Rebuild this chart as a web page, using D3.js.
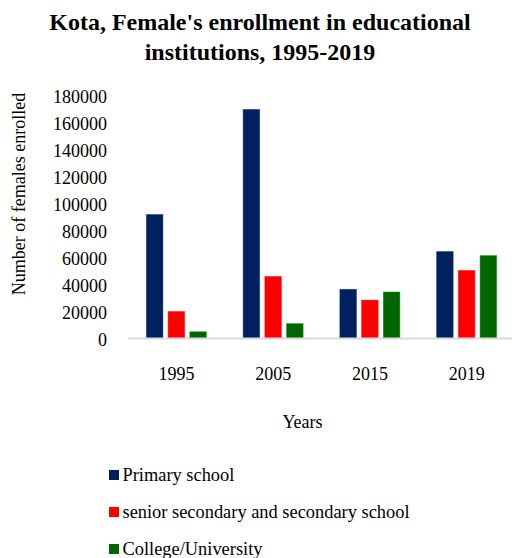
<!DOCTYPE html>
<html>
<head>
<meta charset="utf-8">
<script src="https://cdn.jsdelivr.net/npm/d3@7/dist/d3.min.js"></script>
<style>
  html, body { margin: 0; padding: 0; background: #fff; }
  svg { display: block; }
  svg text { font-family: "Liberation Serif", "Times New Roman", serif; fill: #000; }
</style>
</head>
<body>
<svg id="chart" width="512" height="558"></svg>
<script>
// Enrollment data, Kota district
const years = ["1995", "2005", "2015", "2019"];
const seriesNames = ["Primary school", "senior secondary and secondary school", "College/University"];
const primary = [92000, 170000, 36500, 64500];
const secondary = [20000, 46000, 28500, 50500];
const college = [5000, 11000, 34500, 61500];
const seriesColors = ["#002060", "#FF0000", "#006600"];
const yTicks = [0, 20000, 40000, 60000, 80000, 100000, 120000, 140000, 160000, 180000];

const values = [primary, secondary, college];
const serif = '"Liberation Serif", "Times New Roman", serif';

const svg = d3.select("#chart");
const plotLeft = 128, plotRight = 515;
const plotBottom = 338.5, plotTop = 96;

const x0 = d3.scaleBand().domain(years).range([plotLeft, plotRight]).paddingInner(0.38).paddingOuter(0.19);
const x1 = d3.scaleBand().domain(d3.range(seriesNames.length)).range([0, x0.bandwidth()]).paddingInner(0.24);
const y = d3.scaleLinear().domain([0, 180000]).range([plotBottom, plotTop]);

// Title
const title = svg.append("text")
  .attr("text-anchor", "middle")
  .style("font-family", serif).style("font-size", "24px").style("font-weight", "bold");
title.append("tspan").attr("x", 260).attr("y", 30).text("Kota, Female's enrollment in educational");
title.append("tspan").attr("x", 260).attr("y", 60).text("institutions, 1995-2019");

// Y axis tick labels
const yAxis = d3.axisLeft(y).tickValues(yTicks).tickSize(0).tickPadding(0).tickFormat(d3.format("d"));
const yg = svg.append("g").attr("transform", "translate(107,0)").call(yAxis);
yg.select(".domain").remove();
yg.selectAll("text").attr("dy", "0.37em")
  .style("font-family", serif).style("font-size", "18px").style("fill", "#000");

// Bars
const groups = svg.append("g").selectAll("g").data(years).join("g")
  .attr("transform", d => `translate(${x0(d)},0)`);
groups.selectAll("rect")
  .data((d, i) => values.map((s, k) => ({ k, v: s[i] })))
  .join("rect")
  .attr("x", d => x1(d.k))
  .attr("width", x1.bandwidth())
  .attr("y", d => y(d.v))
  .attr("height", d => plotBottom - y(d.v))
  .attr("fill", d => seriesColors[d.k])
  .attr("stroke", d => d3.color(seriesColors[d.k]).brighter(0.9))
  .attr("stroke-width", 0.8)
  .attr("stroke-opacity", 0.6);

// X axis baseline and labels
svg.append("line").attr("x1", plotLeft).attr("x2", 512)
  .attr("y1", plotBottom).attr("y2", plotBottom)
  .attr("stroke", "#d9d9d9").attr("stroke-width", 2);

const xAxis = d3.axisBottom(x0).tickSize(0).tickPadding(0);
const xg = svg.append("g").attr("transform", "translate(0,366)").call(xAxis);
xg.select(".domain").remove();
xg.selectAll("text").attr("dy", "0.75em")
  .style("font-family", serif).style("font-size", "18px").style("fill", "#000");

// Axis titles
svg.append("text").attr("x", 302.5).attr("y", 428).attr("text-anchor", "middle")
  .style("font-family", serif).style("font-size", "18px").text("Years");
svg.append("text").attr("transform", "translate(25,194) rotate(-90)")
  .attr("text-anchor", "middle")
  .style("font-family", serif).style("font-size", "18px")
  .text("Number of females enrolled");

// Legend
const legend = svg.append("g").selectAll("g").data(seriesNames).join("g")
  .attr("transform", (d, i) => `translate(109,${475 + i * 37})`);
legend.append("rect").attr("x", 0).attr("y", -5).attr("width", 10).attr("height", 10)
  .attr("fill", (d, i) => seriesColors[i]);
legend.append("text").attr("x", 13.5).attr("y", 6)
  .style("font-family", serif).style("font-size", "18.4px")
  .text(d => d);
</script>
</body>
</html>
